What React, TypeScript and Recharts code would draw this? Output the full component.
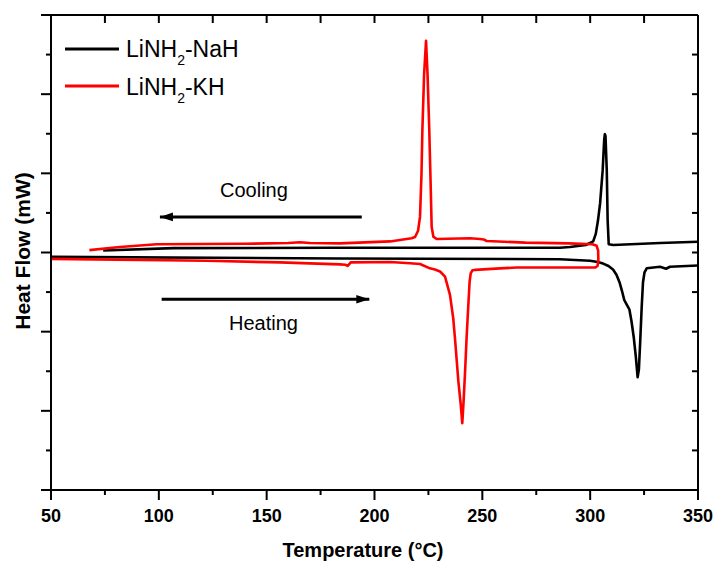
import React from 'react';
import { ComposedChart, Line, XAxis, YAxis } from 'recharts';

const FONT = '"Liberation Sans", Arial, Helvetica, sans-serif';

// LiNH2-NaH heating (°C, heat flow in arbitrary units)
const naHeatT = [50, 184, 286, 300, 303.5, 306, 308.5, 310.6, 312.2, 313.6, 314.8, 315.8, 316.9, 318.2, 319.2, 320.2, 321.2, 322.0, 322.6, 323.2, 323.9, 324.5, 325.2, 326.2, 332.4, 335.2, 337.0, 350];
const naHeatV = [5.89, 5.85, 5.83, 5.79, 5.76, 5.72, 5.66, 5.57, 5.44, 5.25, 5.02, 4.80, 4.69, 4.56, 4.25, 3.86, 3.35, 2.85, 3.05, 3.75, 4.63, 5.25, 5.50, 5.60, 5.64, 5.59, 5.64, 5.67];

// LiNH2-NaH cooling (from 350 °C downwards)
const naCoolT = [350, 332.4, 310.7, 308.6, 308.1, 307.7, 307.1, 306.8, 306.5, 305.8, 304.6, 303.6, 302.6, 301.4, 298, 290.6, 286, 179.4, 106.6, 74.2];
const naCoolV = [6.27, 6.24, 6.19, 6.21, 6.82, 8.08, 8.95, 8.99, 8.84, 8.08, 7.24, 6.80, 6.47, 6.28, 6.19, 6.14, 6.12, 6.12, 6.11, 6.05];

// LiNH2-KH heating then cooling (one continuous loop)
const khT = [50, 122.2, 156.2, 184, 186.5, 187.6, 189, 207.2, 216.5, 221.1, 225.7, 228.0, 230.4, 232.7, 235.0, 236.5, 237.3, 238.9, 240.0, 240.7, 241.3, 242.0, 242.7, 243.5, 244.1, 244.6, 245.4, 246.6, 258.2, 265.9, 302.4, 303.4, 303.8, 303.7, 303.0, 301.0, 290, 270, 252.0, 250.6, 248.9, 244.3, 228.8, 227.3, 226.5, 226.0, 225.4, 224.6, 223.9, 223.0, 222.2, 221.8, 221.1, 220.2, 218.8, 217.2, 207.2, 184, 170, 165.4, 160, 140, 99.0, 82, 67.8];
const khV = [5.84, 5.79, 5.75, 5.70, 5.69, 5.66, 5.75, 5.76, 5.73, 5.71, 5.60, 5.57, 5.52, 5.39, 4.93, 4.34, 3.84, 2.74, 2.15, 1.69, 2.23, 2.99, 3.84, 4.67, 5.26, 5.47, 5.55, 5.56, 5.60, 5.62, 5.62, 5.66, 5.78, 6.05, 6.17, 6.21, 6.23, 6.25, 6.29, 6.33, 6.34, 6.36, 6.34, 6.40, 6.65, 7.8, 9.09, 10.5, 11.35, 10.5, 9.09, 8.0, 6.90, 6.55, 6.39, 6.36, 6.28, 6.23, 6.24, 6.26, 6.24, 6.22, 6.21, 6.14, 6.06];

// Annotation arrows (tip first)
const coolArrowT = [100.5, 194.1];
const coolArrowV = [6.9, 6.9];
const heatArrowT = [197.6, 101.3];
const heatArrowV = [4.82, 4.82];

const xTicks = [50, 75, 100, 125, 150, 175, 200, 225, 250, 275, 300, 325, 350];
const yTicks = [0, 1, 2, 3, 4, 5, 6, 7, 8, 9, 10, 11, 12];

const zip = (t: number[], v: number[]) => t.map((x, i) => ({ x, y: v[i] }));

const naHeat = zip(naHeatT, naHeatV);
const naCool = zip(naCoolT, naCoolV);
const kh = zip(khT, khV);
const coolArrow = zip(coolArrowT, coolArrowV);
const heatArrow = zip(heatArrowT, heatArrowV);

const BottomTick = (p: any) => {
  const { x, y, payload } = p;
  const major = payload.value % 50 === 0;
  return (
    <g>
      <line x1={x} x2={x} y1={y} y2={y + (major ? 10 : 5)} stroke="#000" strokeWidth={2} />
      {major && (
        <text x={x} y={y + 32} textAnchor="middle" fontFamily={FONT} fontWeight="bold" fontSize={18} fill="#000">
          {payload.value}
        </text>
      )}
    </g>
  );
};

const TopTick = (p: any) => {
  const { x, y } = p;
  return <line x1={x} x2={x} y1={y} y2={y + 8} stroke="#000" strokeWidth={2} />;
};

const LeftTick = (p: any) => {
  const { x, y, payload } = p;
  const major = payload.value % 2 === 0;
  return <line x1={x - (major ? 10 : 5)} x2={x} y1={y} y2={y} stroke="#000" strokeWidth={2} />;
};

const RightTick = (p: any) => {
  const { x, y } = p;
  return <line x1={x - 6} x2={x} y1={y} y2={y} stroke="#000" strokeWidth={2} />;
};

const arrowDot = (dir: number) => (props: any) => {
  const { cx, cy, index } = props;
  if (index !== 0) return <g key={`d${index}`} />;
  const L = 13;
  const W = 4.3;
  const bx = cx - dir * L;
  return <polygon key={`d${index}`} points={`${cx},${cy} ${bx},${cy - W} ${bx},${cy + W}`} fill="#000" />;
};

const axisLine = { stroke: '#000', strokeWidth: 2 };

export default function App() {
  return (
    <div style={{ position: 'absolute', left: 0, top: 0, width: 713, height: 564, background: '#fff' }}>
      <ComposedChart width={713} height={564} margin={{ top: 0, right: 0, bottom: 0, left: 0 }}>
        <XAxis
          xAxisId="b"
          type="number"
          dataKey="x"
          domain={[50, 350]}
          ticks={xTicks}
          interval={0}
          height={74}
          orientation="bottom"
          axisLine={axisLine}
          tickLine={false}
          tickSize={0}
          tickMargin={0}
          tick={<BottomTick />}
          allowDataOverflow
        />
        <XAxis
          xAxisId="t"
          type="number"
          dataKey="x"
          domain={[50, 350]}
          ticks={xTicks}
          interval={0}
          height={15}
          orientation="top"
          axisLine={axisLine}
          tickLine={false}
          tickSize={0}
          tickMargin={0}
          tick={<TopTick />}
          allowDataOverflow
        />
        <YAxis
          yAxisId="l"
          type="number"
          dataKey="y"
          domain={[0, 12]}
          ticks={yTicks}
          interval={0}
          width={51}
          orientation="left"
          axisLine={axisLine}
          tickLine={false}
          tickSize={0}
          tickMargin={0}
          tick={<LeftTick />}
          allowDataOverflow
        />
        <YAxis
          yAxisId="r"
          type="number"
          dataKey="y"
          domain={[0, 12]}
          ticks={yTicks}
          interval={0}
          width={15}
          orientation="right"
          axisLine={axisLine}
          tickLine={false}
          tickSize={0}
          tickMargin={0}
          tick={<RightTick />}
          allowDataOverflow
        />
        <Line xAxisId="b" yAxisId="l" data={naHeat} dataKey="y" type="linear" stroke="#000" strokeWidth={2.6} strokeLinejoin="round" dot={false} activeDot={false} isAnimationActive={false} />
        <Line xAxisId="b" yAxisId="l" data={naCool} dataKey="y" type="linear" stroke="#000" strokeWidth={2.6} strokeLinejoin="round" dot={false} activeDot={false} isAnimationActive={false} />
        <Line xAxisId="b" yAxisId="l" data={kh} dataKey="y" type="linear" stroke="#ff0000" strokeWidth={2.6} strokeLinejoin="round" dot={false} activeDot={false} isAnimationActive={false} />
        <Line xAxisId="b" yAxisId="l" data={coolArrow} dataKey="y" type="linear" stroke="#000" strokeWidth={3} dot={arrowDot(-1)} activeDot={false} isAnimationActive={false} />
        <Line xAxisId="b" yAxisId="l" data={heatArrow} dataKey="y" type="linear" stroke="#000" strokeWidth={3} dot={arrowDot(1)} activeDot={false} isAnimationActive={false} />
      </ComposedChart>
      <svg width={713} height={564} style={{ position: 'absolute', left: 0, top: 0, pointerEvents: 'none' }}>
        <line x1={65} x2={119} y1={49} y2={49} stroke="#000" strokeWidth={3} />
        <text x={126} y={57} fontFamily={FONT} fontSize={23} fill="#000">
          LiNH<tspan fontSize={14} dy={8}>2</tspan><tspan dy={-8}>-NaH</tspan>
        </text>
        <line x1={65} x2={119} y1={86} y2={86} stroke="#ff0000" strokeWidth={3} />
        <text x={126} y={95} fontFamily={FONT} fontSize={23} fill="#000">
          LiNH<tspan fontSize={14} dy={8}>2</tspan><tspan dy={-8}>-KH</tspan>
        </text>
        <text x={220} y={197} fontFamily={FONT} fontSize={20} fill="#000">Cooling</text>
        <text x={229} y={330} fontFamily={FONT} fontSize={20} fill="#000">Heating</text>
        <text x={363} y={557} textAnchor="middle" fontFamily={FONT} fontWeight="bold" fontSize={20} fill="#000">Temperature (°C)</text>
        <text x={0} y={0} transform="translate(30,251) rotate(-90)" textAnchor="middle" fontFamily={FONT} fontWeight="bold" fontSize={21} fill="#000">Heat Flow (mW)</text>
      </svg>
    </div>
  );
}
